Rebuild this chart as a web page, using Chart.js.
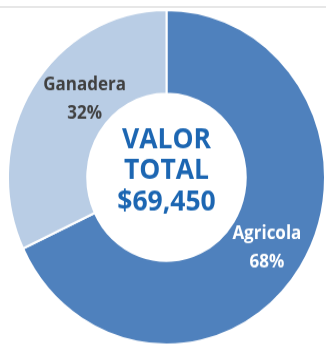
<!DOCTYPE html>
<html>
<head>
<meta charset="utf-8">
<script src="https://cdn.jsdelivr.net/npm/chart.js@4.4.1/dist/chart.umd.min.js"></script>
<style>
  html, body { margin: 0; padding: 0; background: #fff; }
  body { width: 326px; height: 346px; position: relative; overflow: hidden; }
  .topline { position: absolute; left: 0; top: 6px; width: 326px; height: 2px; background: #e7e7e7; }
  .wrap { position: absolute; left: 7px; top: 9px; width: 319px; height: 319px;
          transform: scaleY(1.055); transform-origin: 0 0; }
</style>
</head>
<body>
<div class="topline"></div>
<div class="wrap"><canvas id="chDonut" width="319" height="319"></canvas></div>
<script>
"use strict";

const categories = ['Agricola', 'Ganadera'];
const percents = [68, 32];
const totalLines = ['VALOR', 'TOTAL', '$69,450'];

const colors = ['#4f81bd', '#b9cde5'];
const labelColors = ['#ffffff', '#404040'];
// nudges from each slice's centroid
const labelOffsets = [[0, 3.5], [18.5, -10]];

const FONT = '"Open Sans", "Noto Sans", sans-serif';

// draws the slice names / percents and the total in the hole
const donutText = {
  id: 'donutText',
  afterDatasetsDraw(chart) {
    const ctx = chart.ctx;
    const meta = chart.getDatasetMeta(0);
    ctx.save();
    ctx.textAlign = 'center';
    ctx.textBaseline = 'middle';
    ctx.font = 'bold 17px ' + FONT;
    meta.data.forEach((arc, i) => {
      const p = arc.tooltipPosition();
      const x = p.x + labelOffsets[i][0];
      const y = p.y + labelOffsets[i][1];
      ctx.fillStyle = labelColors[i];
      ctx.fillText(categories[i], x, y - 13.8);
      ctx.fillText(percents[i] + '%', x, y + 13.8);
    });

    const cx = meta.data[0].x;
    const cy = meta.data[0].y;
    ctx.textBaseline = 'alphabetic';
    ctx.fillStyle = '#1c66b2';
    ctx.font = 'bold 26.5px ' + FONT;
    ctx.fillText(totalLines[0], cx, cy - 27.5);
    ctx.fillText(totalLines[1], cx, cy + 1.5);
    ctx.fillText(totalLines[2], cx, cy + 31.5);
    ctx.restore();
  }
};

new Chart(document.getElementById('chDonut'), {
  type: 'doughnut',
  data: {
    labels: categories,
    datasets: [{
      data: percents,
      backgroundColor: colors,
      borderColor: '#ffffff',
      borderWidth: 2
    }]
  },
  options: {
    responsive: false,
    animation: false,
    cutout: '50%',
    layout: { padding: 0 },
    plugins: {
      legend: { display: false },
      tooltip: { enabled: false }
    }
  },
  plugins: [donutText]
});
</script>
</body>
</html>
